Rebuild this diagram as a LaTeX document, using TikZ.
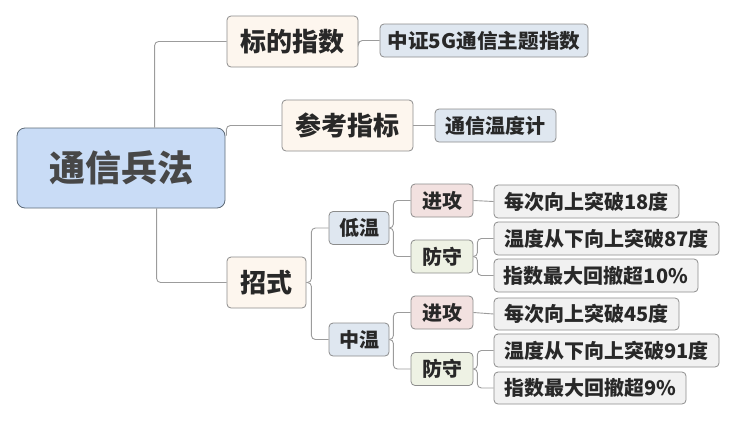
\documentclass[tikz,border=0pt]{standalone}
\usepackage{fontspec}
\setmainfont{Noto Sans CJK SC}
\usetikzlibrary{calc}
\definecolor{rootfill}{HTML}{C9DCF6}
\definecolor{rootdraw}{HTML}{5E6B78}
\definecolor{mainfill}{HTML}{FDF6EE}
\definecolor{bluefill}{HTML}{DFE7F0}
\definecolor{redfill}{HTML}{F2E1E0}
\definecolor{greenfill}{HTML}{EEF2E4}
\definecolor{leaffill}{HTML}{F1F1F1}
\definecolor{boxdraw}{HTML}{8C8C8C}
\definecolor{txt}{HTML}{282828}
\definecolor{linecol}{HTML}{9C9C9C}
\begin{document}
\begin{tikzpicture}[x=1pt,y=-1pt,
  base/.style={draw=boxdraw,line width=0.8pt,rounded corners=4pt,inner sep=0pt,text=txt,font=\bfseries},
  rootbox/.style={base,draw=rootdraw,fill=rootfill,rounded corners=8pt,minimum width=208pt,minimum height=80pt,font=\bfseries\fontsize{36}{40}\selectfont,text=black!72},
  mainbox/.style={base,fill=mainfill,minimum height=51pt,font=\bfseries\fontsize{26}{30}\selectfont},
  smallbox/.style={base,minimum height=33pt,font=\bfseries\fontsize{20}{24}\selectfont},
  bluebox/.style={smallbox,fill=bluefill},
  redbox/.style={smallbox,fill=redfill,minimum width=62pt},
  greenbox/.style={smallbox,fill=greenfill,minimum width=62pt},
  leafbox/.style={smallbox,fill=leaffill},
  conn/.style={draw=linecol,line width=0.9pt,rounded corners=4pt}
]
\useasboundingbox (0,0) rectangle (736,421);
\node[rootbox] (root) at (121,168) {通信兵法};
\node[mainbox,minimum width=131pt] (bd) at (292.5,41.5) {标的指数};
\node[bluebox,minimum width=208pt] (zz) at (484,40.5) {\scalebox{1.03}[1]{中证5G通信主题指数}};
\node[mainbox,minimum width=131pt] (ck) at (347.5,125.5) {参考指标};
\node[bluebox,minimum width=121pt] (wd) at (495.5,125.5) {通信温度计};
\node[mainbox,minimum width=79pt] (zs) at (266.5,282.5) {招式};
\node[bluebox,minimum width=60pt] (dw) at (359,228) {低温};
\node[bluebox,minimum width=60pt] (zw) at (359,339.5) {中温};
\node[redbox] (jg1) at (442,200.5) {进攻};
\node[greenbox] (fs1) at (442,256.5) {防守};
\node[redbox] (jg2) at (442,312.5) {进攻};
\node[greenbox] (fs2) at (442,369) {防守};
\node[leafbox,minimum width=185pt] (l1) at (586.5,201.5) {每次向上突破18度};
\node[leafbox,minimum width=225pt] (l2) at (606.5,238.5) {温度从下向上突破87度};
\node[leafbox,minimum width=204pt] (l3) at (596,275.5) {指数最大回撤超10\%};
\node[leafbox,minimum width=185pt,minimum height=32pt] (l4) at (586.5,314) {每次向上突破45度};
\node[leafbox,minimum width=225pt] (l5) at (606.5,350.5) {温度从下向上突破91度};
\node[leafbox,minimum width=192pt,minimum height=32pt] (l6) at (590,388) {指数最大回撤超9\%};
% connectors
\draw[conn] ($(root.north west)+(138,0)$) |- (bd.west);
\draw[conn] ($(root.north east)+(1,8)$) |- (ck.west);
\draw[conn] ($(root.south west)+(140,0)$) |- (zs.west);
\draw[conn] (bd.east) -- (zz.west -| bd.east) -- (zz.west);
\draw[conn] (ck.east) -- (wd.west);
\draw[conn] (zs.east) -- ++(5,0) |- (dw.west);
\draw[conn] (zs.east) -- ++(5,0) |- (zw.west);
\draw[conn] (dw.east) -- ++(4,0) |- (jg1.west);
\draw[conn] (dw.east) -- ++(4,0) |- (fs1.west);
\draw[conn] (zw.east) -- ++(4,0) |- (jg2.west);
\draw[conn] (zw.east) -- ++(4,0) |- (fs2.west);
\draw[conn] (jg1.east) -- (l1.west);
\draw[conn] (jg2.east) -- (l4.west);
\draw[conn] (fs1.east) -- ++(4,0) |- (l2.west);
\draw[conn] (fs1.east) -- ++(4,0) |- (l3.west);
\draw[conn] (fs2.east) -- ++(4,0) |- (l5.west);
\draw[conn] (fs2.east) -- ++(4,0) |- (l6.west);
\end{tikzpicture}
\end{document}
